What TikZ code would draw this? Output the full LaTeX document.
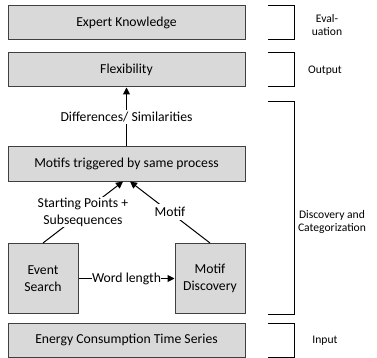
\documentclass[tikz,border=0pt]{standalone}
\usepackage{fontspec}
\setmainfont{Carlito}
\usetikzlibrary{arrows.meta,calc}
\definecolor{boxfill}{HTML}{D9D9D9}
\definecolor{boxdraw}{HTML}{404040}
\begin{document}
\begin{tikzpicture}[x=1pt,y=-1pt,
  every node/.style={font=\fontsize{13.7}{16.5}\selectfont},
  wide/.style={draw=boxdraw,fill=boxfill,line width=1pt,minimum width=237pt,minimum height=34pt,inner sep=0pt},
  square/.style={draw=boxdraw,fill=boxfill,line width=1pt,minimum width=70pt,minimum height=70pt,inner sep=0pt,align=center},
  lbl/.style={fill=white,inner sep=1.5pt,align=center},
  arr/.style={line width=1pt,-{Triangle[length=7pt,width=7pt]}},
  conn/.style={line width=1pt},
  brk/.style={line width=1pt,black},
  side/.style={align=center,font=\fontsize{11.6}{13.2}\selectfont}]
\useasboundingbox (0,0) rectangle (377,358);
\node[wide] (expert) at (126.5,23) {Expert Knowledge};
\node[wide] (flex) at (126.5,70) {Flexibility};
\node[wide] (motifs) at (126.5,164) {Motifs triggered by same process};
\node[square] (event) at (43,278.5) {Event\\Search};
\node[square] (motifd) at (210,278.5) {Motif\\Discovery};
\node[wide] (energy) at (126.5,340) {Energy Consumption Time Series};
\node[inner sep=2pt] (diff) at (126.5,117) {Differences/ Similarities};
\coordinate (tipL) at ($(motifs.south)+(-3.5,0)$);
\coordinate (tipR) at ($(motifs.south)+(3.5,0)$);
\draw[conn] (motifs.north) -- (diff.south);
\draw[arr] (diff.north) -- (flex.south);
\draw[arr] (event.north) -- node[lbl,inner sep=1pt] (sp) {Starting Points +\\Subsequences} (tipL);
\draw[arr] (motifd.north) -- node[lbl,inner sep=3pt] (mo) {Motif} (tipR);
\draw[arr] (event.east) -- node[lbl,inner sep=0.5pt] (wl) {Word length} (motifd.west);
% brackets
\draw[brk] (268,6) -- (294,6) -- (294,40) -- (268,40);
\draw[brk] (268,53) -- (294,53) -- (294,87) -- (268,87);
\draw[brk] (268,102) -- (294,102) -- (294,314) -- (268,314);
\draw[brk] (268,323) -- (294,323) -- (294,357) -- (268,357);
\node[side] (t1) at (327,25) {Eval-\\uation};
\node[side] (t2) at (325,71) {Output};
\node[side] (t3) at (332,222) {Discovery and\\Categorization};
\node[side] (t4) at (325,341) {Input};
\end{tikzpicture}
\end{document}
